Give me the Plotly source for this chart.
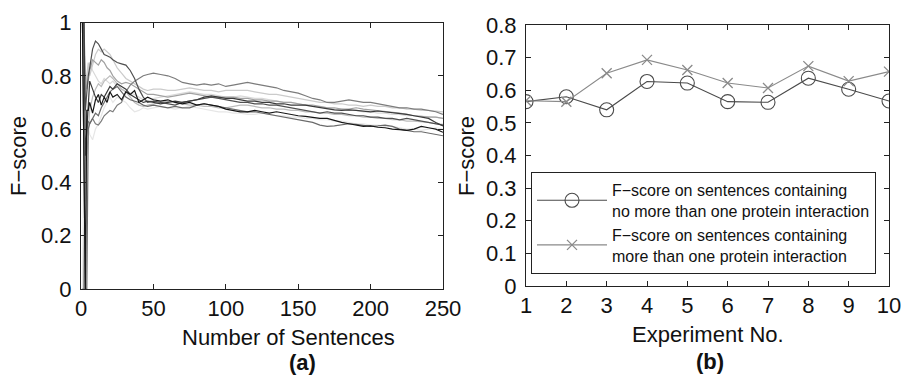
import plotly.graph_objects as go

# ---------------- data: panel (a) ----------------
sent_early = [1, 2, 3, 4, 5, 6, 8, 10, 12, 14, 16, 18, 20, 22, 25, 28, 31, 34, 37, 40, 43, 46, 50]
sent_late = list(range(55, 251, 5))
sentences = sent_early + sent_late

fold1 = [1.0, 0.5, 0.0, 0.67, 0.67, 0.70, 0.66, 0.71, 0.73, 0.69, 0.72, 0.70, 0.74, 0.72, 0.73, 0.71, 0.74, 0.73, 0.745, 0.70, 0.71, 0.72, 0.71,
         0.705, 0.71, 0.70, 0.695, 0.70, 0.69, 0.695, 0.69, 0.685, 0.675,
         0.67, 0.665, 0.665, 0.67, 0.665, 0.66, 0.665, 0.66, 0.655, 0.65,
         0.648, 0.645, 0.64, 0.64, 0.632, 0.625, 0.62, 0.615, 0.61, 0.612,
         0.607, 0.605, 0.60, 0.598, 0.595, 0.60, 0.61, 0.605, 0.60, 0.588]
fold2 = [0.0, 0.0, 0.5, 0.6, 0.63, 0.62, 0.64, 0.62, 0.615, 0.63, 0.65, 0.66, 0.67, 0.665, 0.69, 0.70, 0.74, 0.765, 0.78, 0.79, 0.80, 0.805, 0.81,
         0.805, 0.80, 0.79, 0.775, 0.77, 0.765, 0.77, 0.765, 0.77, 0.76,
         0.765, 0.77, 0.775, 0.77, 0.765, 0.76, 0.755, 0.745, 0.74, 0.735,
         0.725, 0.715, 0.71, 0.70, 0.70, 0.705, 0.71, 0.705, 0.70, 0.70,
         0.695, 0.69, 0.685, 0.68, 0.68, 0.675, 0.675, 0.67, 0.665, 0.655]
fold3 = [1.0, 1.0, 0.67, 0.75, 0.80, 0.83, 0.90, 0.93, 0.92, 0.90, 0.88, 0.875, 0.87, 0.86, 0.85, 0.845, 0.84, 0.82, 0.79, 0.75, 0.72, 0.70, 0.705,
         0.70, 0.695, 0.69, 0.70, 0.705, 0.71, 0.715, 0.72, 0.715, 0.71,
         0.705, 0.70, 0.70, 0.695, 0.695, 0.69, 0.69, 0.685, 0.68, 0.675,
         0.67, 0.665, 0.66, 0.665, 0.66, 0.66, 0.655, 0.65, 0.65, 0.645,
         0.645, 0.64, 0.64, 0.635, 0.64, 0.635, 0.63, 0.625, 0.62, 0.615]
fold4 = [1.0, 0.5, 0.0, 0.0, 0.6, 0.62, 0.64, 0.66, 0.65, 0.68, 0.70, 0.72, 0.74, 0.75, 0.76, 0.74, 0.72, 0.71, 0.705, 0.70, 0.69, 0.685, 0.69,
         0.685, 0.68, 0.685, 0.68, 0.68, 0.69, 0.695, 0.69, 0.685, 0.68,
         0.675, 0.67, 0.665, 0.665, 0.66, 0.655, 0.65, 0.645, 0.64, 0.635,
         0.63, 0.625, 0.615, 0.61, 0.612, 0.615, 0.62, 0.618, 0.615, 0.61,
         0.612, 0.615, 0.61, 0.60, 0.595, 0.59, 0.59, 0.585, 0.58, 0.575]
fold5 = [1.0, 1.0, 0.5, 0.6, 0.7, 0.78, 0.75, 0.72, 0.70, 0.73, 0.72, 0.74, 0.76, 0.75, 0.77, 0.76, 0.75, 0.73, 0.72, 0.71, 0.70, 0.705, 0.70,
         0.695, 0.70, 0.705, 0.70, 0.705, 0.71, 0.72, 0.725, 0.72, 0.715,
         0.715, 0.71, 0.705, 0.705, 0.70, 0.70, 0.695, 0.695, 0.69, 0.69,
         0.69, 0.685, 0.68, 0.675, 0.672, 0.67, 0.672, 0.67, 0.668, 0.665,
         0.668, 0.665, 0.66, 0.658, 0.655, 0.65, 0.645, 0.64, 0.625, 0.612]
fold6 = [0.0, 0.0, 0.67, 0.80, 0.85, 0.80, 0.84, 0.88, 0.90, 0.89, 0.90, 0.89, 0.88, 0.86, 0.83, 0.81, 0.79, 0.78, 0.77, 0.76, 0.75, 0.745, 0.75,
         0.75, 0.745, 0.745, 0.75, 0.755, 0.75, 0.745, 0.745, 0.74, 0.745,
         0.745, 0.745, 0.745, 0.74, 0.735, 0.73, 0.73, 0.725, 0.72, 0.715,
         0.71, 0.705, 0.70, 0.70, 0.695, 0.695, 0.69, 0.69, 0.685, 0.69,
         0.685, 0.685, 0.68, 0.68, 0.675, 0.675, 0.67, 0.67, 0.668, 0.665]
fold7 = [1.0, 0.67, 0.75, 0.8, 0.83, 0.85, 0.82, 0.80, 0.78, 0.77, 0.79, 0.78, 0.77, 0.78, 0.76, 0.75, 0.74, 0.735, 0.73, 0.72, 0.71, 0.70, 0.715,
         0.72, 0.725, 0.73, 0.735, 0.74, 0.735, 0.73, 0.73, 0.725, 0.72,
         0.72, 0.725, 0.72, 0.715, 0.715, 0.71, 0.705, 0.70, 0.70, 0.695,
         0.69, 0.685, 0.685, 0.68, 0.675, 0.675, 0.67, 0.67, 0.665, 0.665,
         0.66, 0.66, 0.655, 0.655, 0.65, 0.65, 0.648, 0.645, 0.645, 0.64]
fold8 = [0.0, 0.5, 0.67, 0.6, 0.62, 0.58, 0.56, 0.60, 0.62, 0.65, 0.68, 0.70, 0.72, 0.70, 0.72, 0.71, 0.70, 0.68, 0.665, 0.67, 0.68, 0.675, 0.68,
         0.685, 0.68, 0.675, 0.68, 0.685, 0.68, 0.675, 0.67, 0.665, 0.665,
         0.66, 0.66, 0.655, 0.655, 0.66, 0.655, 0.65, 0.65, 0.645, 0.645,
         0.64, 0.64, 0.635, 0.635, 0.63, 0.63, 0.625, 0.62, 0.62, 0.615,
         0.615, 0.61, 0.61, 0.605, 0.60, 0.60, 0.595, 0.60, 0.605, 0.60]
fold9 = [1.0, 1.0, 0.80, 0.75, 0.78, 0.82, 0.86, 0.85, 0.84, 0.86, 0.85, 0.83, 0.82, 0.80, 0.78, 0.77, 0.775, 0.77, 0.76, 0.75, 0.74, 0.73, 0.73,
         0.725, 0.72, 0.725, 0.73, 0.735, 0.73, 0.725, 0.72, 0.72, 0.72,
         0.72, 0.715, 0.715, 0.71, 0.71, 0.705, 0.705, 0.70, 0.70, 0.695,
         0.69, 0.69, 0.685, 0.68, 0.68, 0.675, 0.675, 0.68, 0.675, 0.672,
         0.67, 0.668, 0.665, 0.66, 0.655, 0.65, 0.648, 0.645, 0.645, 0.64]
fold10 = [0.0, 0.0, 0.0, 0.5, 0.6, 0.67, 0.72, 0.75, 0.77, 0.76, 0.78, 0.79, 0.80, 0.79, 0.77, 0.75, 0.74, 0.72, 0.70, 0.69, 0.685, 0.69, 0.695,
          0.70, 0.705, 0.70, 0.695, 0.69, 0.69, 0.685, 0.685, 0.68, 0.68,
          0.685, 0.69, 0.69, 0.685, 0.68, 0.68, 0.675, 0.675, 0.67, 0.67,
          0.665, 0.665, 0.66, 0.66, 0.655, 0.655, 0.65, 0.65, 0.645, 0.645,
          0.64, 0.64, 0.635, 0.635, 0.63, 0.63, 0.628, 0.625, 0.62, 0.618]

# ---------------- data: panel (b) ----------------
experiments = [1, 2, 3, 4, 5, 6, 7, 8, 9, 10]
fscore_single = [0.565, 0.58, 0.54, 0.627, 0.622, 0.565, 0.563, 0.637, 0.603, 0.567]
fscore_multi = [0.568, 0.565, 0.652, 0.693, 0.662, 0.622, 0.607, 0.674, 0.628, 0.657]

legend_single = "F\u2212score on sentences containing<br>no more than one protein interaction"
legend_multi = "F\u2212score on sentences containing<br>more than one protein interaction"

# ---------------- figure ----------------
W, H = 903, 376
FONT = "Liberation Sans, Arial, sans-serif"
fig = go.Figure()

# light folds first, dark on top
folds = [
    (fold8, "#e6e6e6"), (fold7, "#d9d9d9"), (fold6, "#cbcbcb"), (fold10, "#bcbcbc"),
    (fold9, "#a2a2a2"), (fold2, "#7c7c7c"), (fold4, "#6a6a6a"), (fold3, "#505050"),
    (fold5, "#3a3a3a"), (fold1, "#161616"),
]
for vals, col in folds:
    assert len(vals) == len(sentences)
    fig.add_trace(go.Scatter(x=sentences, y=vals, mode="lines", line=dict(color=col, width=1.2),
                             showlegend=False, xaxis="x", yaxis="y", hoverinfo="skip"))

fig.add_trace(go.Scatter(x=experiments, y=fscore_single, mode="lines+markers", name=legend_single,
                         line=dict(color="#4a4a4a", width=1.1),
                         marker=dict(symbol="circle-open", size=14, color="#4a4a4a", line=dict(width=1.1)),
                         xaxis="x2", yaxis="y2"))
fig.add_trace(go.Scatter(x=experiments, y=fscore_multi, mode="lines+markers", name=legend_multi,
                         line=dict(color="#8a8a8a", width=1.1),
                         marker=dict(symbol="x-thin-open", size=10, color="#8a8a8a", line=dict(width=1.3, color="#8a8a8a")),
                         xaxis="x2", yaxis="y2"))

def px_x(p):
    return p / W

def px_y(p):
    return (H - p) / H

axis_common = dict(showgrid=False, zeroline=False, showline=True, linecolor="#222", linewidth=1,
                   mirror="ticks", ticks="inside", ticklen=5, tickcolor="#222", automargin=False,
                   tickfont=dict(family=FONT, size=22, color="#111"))

fig.update_layout(
    template="none",
    width=W, height=H, margin=dict(l=0, r=0, t=0, b=0, autoexpand=False),
    paper_bgcolor="white", plot_bgcolor="white",
    font=dict(family=FONT, color="#111"),
    xaxis=dict(domain=[px_x(81), px_x(443)], range=[0, 250], tickvals=[0, 50, 100, 150, 200, 250],
               anchor="y", ticklabelstandoff=0, **axis_common),
    yaxis=dict(domain=[px_y(289), px_y(22.5)], range=[0, 1], tickvals=[0, 0.2, 0.4, 0.6, 0.8, 1],
               ticktext=["0", "0.2", "0.4", "0.6", "0.8", "1"], anchor="x", ticklabelstandoff=4, **axis_common),
    xaxis2=dict(domain=[px_x(526), px_x(889)], range=[1, 10], tickvals=experiments,
                anchor="y2", ticklabelstandoff=0, **axis_common),
    yaxis2=dict(domain=[px_y(286), px_y(25)], range=[0, 0.8],
                tickvals=[0, 0.1, 0.2, 0.3, 0.4, 0.5, 0.6, 0.7, 0.8],
                ticktext=["0", "0.1", "0.2", "0.3", "0.4", "0.5", "0.6", "0.7", "0.8"],
                anchor="x2", ticklabelstandoff=4, **axis_common),
    legend=dict(x=px_x(531), y=px_y(172), xanchor="left", yanchor="top",
                bgcolor="white", bordercolor="#222", borderwidth=1,
                font=dict(family=FONT, size=16, color="#111"), itemwidth=70),
)

ann = dict(showarrow=False, xref="paper", yref="paper", font=dict(family=FONT, size=22, color="#111"))
fig.add_annotation(text="Number of Sentences", x=px_x(288), y=px_y(337), xanchor="center", yanchor="middle", **ann)
fig.add_annotation(text="<b>(a)</b>", x=px_x(302), y=px_y(362), xanchor="center", yanchor="middle", **ann)
fig.add_annotation(text="F\u2212score", x=px_x(18), y=px_y(156), textangle=-90, xanchor="center", yanchor="middle", **ann)
fig.add_annotation(text="Experiment No.", x=px_x(708), y=px_y(334), xanchor="center", yanchor="middle", **ann)
fig.add_annotation(text="<b>(b)</b>", x=px_x(710), y=px_y(361), xanchor="center", yanchor="middle", **ann)
fig.add_annotation(text="F\u2212score", x=px_x(466), y=px_y(156), textangle=-90, xanchor="center", yanchor="middle", **ann)

fig.write_html("out.html", config={"displayModeBar": False},
               post_script="document.body.style.margin='0';document.body.style.overflow='hidden';")
